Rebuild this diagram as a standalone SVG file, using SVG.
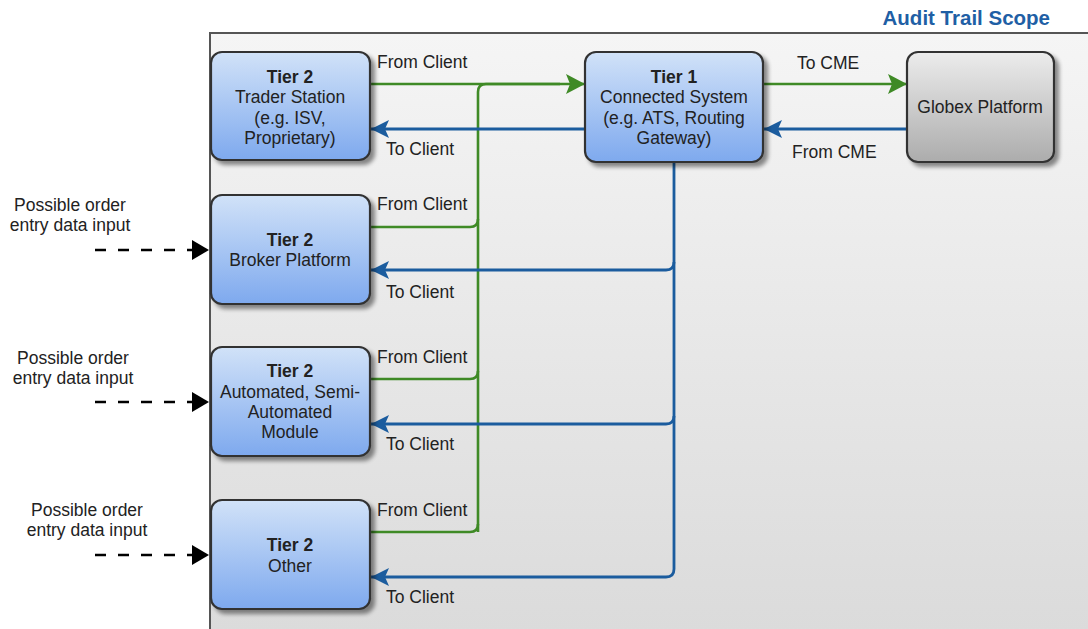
<svg xmlns="http://www.w3.org/2000/svg" width="1088" height="629" viewBox="0 0 1088 629">
<defs>
<linearGradient id="gScope" x1="0" y1="0" x2="0" y2="1"><stop offset="0" stop-color="#f5f5f5"/><stop offset="1" stop-color="#dadada"/></linearGradient>
<linearGradient id="gBlue" x1="0" y1="0" x2="0" y2="1"><stop offset="0" stop-color="#d1e2f8"/><stop offset="1" stop-color="#7ea9ee"/></linearGradient>
<linearGradient id="gGray" x1="0" y1="0" x2="0" y2="1"><stop offset="0" stop-color="#ececec"/><stop offset="1" stop-color="#acacac"/></linearGradient>
<filter id="shadow" x="-10%" y="-10%" width="130%" height="130%"><feGaussianBlur in="SourceAlpha" stdDeviation="2"/><feOffset dx="4" dy="4" result="b"/><feComponentTransfer><feFuncA type="linear" slope="0.45"/></feComponentTransfer><feMerge><feMergeNode/><feMergeNode in="SourceGraphic"/></feMerge></filter>
<marker id="aGreen" markerUnits="userSpaceOnUse" markerWidth="22" markerHeight="22" refX="19" refY="10" orient="auto"><path d="M0,0 L19,10 L0,20 L4,10 Z" fill="#3f8a26"/></marker>
<marker id="aBlue" markerUnits="userSpaceOnUse" markerWidth="20" markerHeight="20" refX="18" refY="9" orient="auto"><path d="M0,0 L18,9 L0,18 L4,9 Z" fill="#1b5c9e"/></marker>
<marker id="aBlack" markerUnits="userSpaceOnUse" markerWidth="20" markerHeight="22" refX="17" refY="10" orient="auto"><path d="M0,0 L17,10 L0,20 Z" fill="#000"/></marker>
</defs>
<style>
.box{stroke:#333;stroke-width:2.2;filter:url(#shadow)}
.blue{fill:url(#gBlue)}
.gray{fill:url(#gGray)}
text{font-family:"Liberation Sans",Arial,sans-serif;font-size:17.5px;fill:#222}
.c{text-anchor:middle}
.b{font-weight:bold}
.g{fill:none;stroke:#3f8a26;stroke-width:2.6}
.bl{fill:none;stroke:#1b5c9e;stroke-width:2.8}
.d{fill:none;stroke:#000;stroke-width:2.6;stroke-dasharray:11 12}
</style>
<rect x="0" y="0" width="1088" height="629" fill="#fff"/>
<g id="scope">
<rect x="210" y="33" width="900" height="620" fill="url(#gScope)" stroke="#555" stroke-width="2"/>
<text x="1050" y="25" style="font-size:20.5px;font-weight:bold;fill:#1f5fa5;text-anchor:end">Audit Trail Scope</text>
</g>
<g id="connectors">
<path class="g" d="M370 84 H585" marker-end="url(#aGreen)"/>
<path class="g" d="M478 532 V92 Q478 84 486 84 H560"/>
<path class="g" d="M370 227 H470 Q478 227 478 219"/>
<path class="g" d="M370 379 H470 Q478 379 478 371"/>
<path class="g" d="M370 532 H470 Q478 532 478 524"/>
<path class="bl" d="M585 129 H371" marker-end="url(#aBlue)"/>
<path class="bl" d="M674 162 V569 Q674 577 666 577 H371" marker-end="url(#aBlue)"/>
<path class="bl" d="M674 262 Q674 270 666 270 H371" marker-end="url(#aBlue)"/>
<path class="bl" d="M674 416 Q674 424 666 424 H371" marker-end="url(#aBlue)"/>
<path class="g" d="M763 84 H907" marker-end="url(#aGreen)"/>
<path class="bl" d="M907 129 H764" marker-end="url(#aBlue)"/>
<path class="d" d="M95 250 H209" marker-end="url(#aBlack)"/>
<path class="d" d="M95 402 H209" marker-end="url(#aBlack)"/>
<path class="d" d="M95 555 H209" marker-end="url(#aBlack)"/>
<text x="377" y="68">From Client</text>
<text x="386" y="155">To Client</text>
<text x="377" y="210">From Client</text>
<text x="386" y="298">To Client</text>
<text x="377" y="363">From Client</text>
<text x="386" y="450">To Client</text>
<text x="377" y="516">From Client</text>
<text x="386" y="603">To Client</text>
<text x="797" y="69">To CME</text>
<text x="792" y="158">From CME</text>
</g>
<g id="inputs">
<text class="c" x="70" y="211">Possible order</text>
<text class="c" x="70" y="231">entry data input</text>
<text class="c" x="73" y="364">Possible order</text>
<text class="c" x="73" y="384">entry data input</text>
<text class="c" x="87" y="516">Possible order</text>
<text class="c" x="87" y="536">entry data input</text>
</g>
<g id="trader-station">
<rect class="box blue" x="211" y="52" width="159" height="108" rx="11"/>
<text class="c b" x="290" y="83">Tier 2</text>
<text class="c" x="290" y="103">Trader Station</text>
<text class="c" x="290" y="124">(e.g. ISV,</text>
<text class="c" x="290" y="144">Proprietary)</text>
</g>
<g id="broker-platform">
<rect class="box blue" x="211" y="195" width="159" height="109" rx="11"/>
<text class="c b" x="290" y="246">Tier 2</text>
<text class="c" x="290" y="266">Broker Platform</text>
</g>
<g id="automated">
<rect class="box blue" x="211" y="347" width="159" height="109" rx="11"/>
<text class="c b" x="290" y="377">Tier 2</text>
<text class="c" x="290" y="398">Automated, Semi-</text>
<text class="c" x="290" y="418">Automated</text>
<text class="c" x="290" y="438">Module</text>
</g>
<g id="other">
<rect class="box blue" x="211" y="500" width="159" height="109" rx="11"/>
<text class="c b" x="290" y="551">Tier 2</text>
<text class="c" x="290" y="572">Other</text>
</g>
<g id="tier1">
<rect class="box blue" x="585" y="52" width="178" height="110" rx="11"/>
<text class="c b" x="674" y="83">Tier 1</text>
<text class="c" x="674" y="103">Connected System</text>
<text class="c" x="674" y="124">(e.g. ATS, Routing</text>
<text class="c" x="674" y="144">Gateway)</text>
</g>
<g id="globex">
<rect class="box gray" x="907" y="52" width="147" height="110" rx="11"/>
<text class="c" x="980" y="113">Globex Platform</text>
</g>
</svg>
